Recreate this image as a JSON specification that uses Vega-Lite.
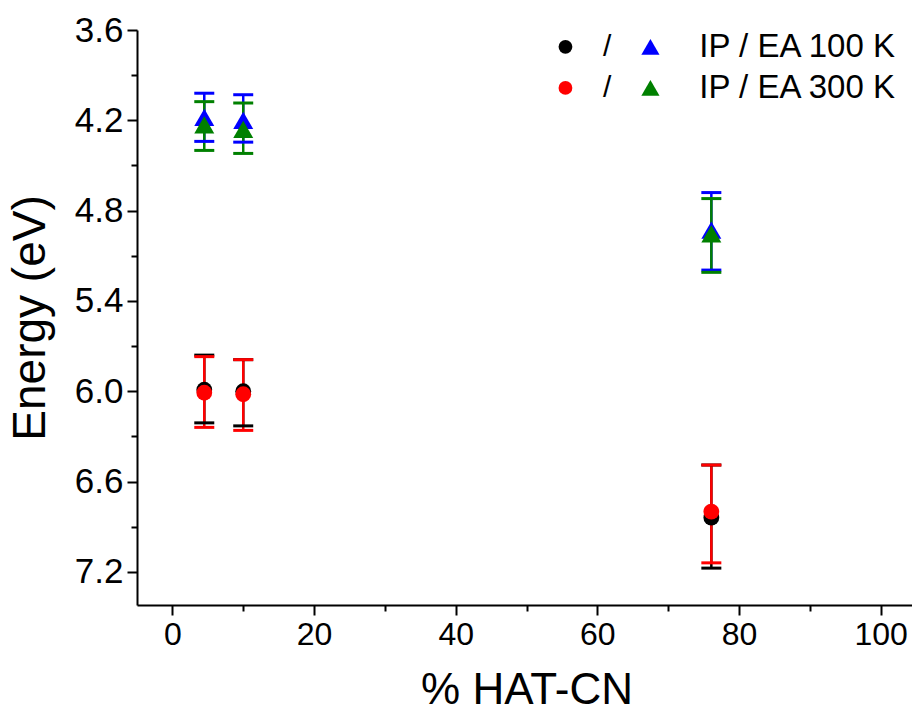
{
  "$schema": "https://vega.github.io/schema/vega-lite/v6.json",
  "autosize": "none",
  "padding": {"left": 137, "top": 30, "right": 0, "bottom": 111},
  "width": 779,
  "height": 575,
  "background": "white",
  "config": {
    "view": {"stroke": null},
    "axis": {"grid": false, "domainColor": "black", "domainWidth": 2, "tickColor": "black", "tickWidth": 2, "labelColor": "black", "titleColor": "black", "titleFontWeight": "normal", "labelFont": "Liberation Sans", "titleFont": "Liberation Sans"}
  },
  "datasets": {
    "main": [
      {"series": "IP 100 K", "kind": "IP", "x": 4.5, "y": 5.99, "lo": 5.76, "hi": 6.21},
      {"series": "IP 100 K", "kind": "IP", "x": 10.0, "y": 6.0, "lo": 5.79, "hi": 6.23},
      {"series": "IP 100 K", "kind": "IP", "x": 76.1, "y": 6.84, "lo": 6.49, "hi": 7.175},
      {"series": "EA 100 K", "kind": "EA", "x": 4.5, "y": 4.18, "lo": 4.02, "hi": 4.34},
      {"series": "EA 100 K", "kind": "EA", "x": 10.0, "y": 4.2, "lo": 4.03, "hi": 4.345},
      {"series": "EA 100 K", "kind": "EA", "x": 76.1, "y": 4.93, "lo": 4.68, "hi": 5.195},
      {"series": "IP 300 K", "kind": "IP", "x": 4.5, "y": 6.01, "lo": 5.77, "hi": 6.24},
      {"series": "IP 300 K", "kind": "IP", "x": 10.0, "y": 6.02, "lo": 5.79, "hi": 6.26},
      {"series": "IP 300 K", "kind": "IP", "x": 76.1, "y": 6.8, "lo": 6.49, "hi": 7.14},
      {"series": "EA 300 K", "kind": "EA", "x": 4.5, "y": 4.23, "lo": 4.076, "hi": 4.4},
      {"series": "EA 300 K", "kind": "EA", "x": 10.0, "y": 4.26, "lo": 4.085, "hi": 4.42},
      {"series": "EA 300 K", "kind": "EA", "x": 76.1, "y": 4.955, "lo": 4.72, "hi": 5.21}
    ],
    "legsym": [
      {"series": "IP 100 K", "kind": "IP", "x": 55.5, "y": 3.712},
      {"series": "EA 100 K", "kind": "EA", "x": 67.5, "y": 3.712},
      {"series": "IP 300 K", "kind": "IP", "x": 55.5, "y": 3.985},
      {"series": "EA 300 K", "kind": "EA", "x": 67.5, "y": 3.985}
    ],
    "legslash": [
      {"x": 61.4, "y": 3.712, "t": "/"},
      {"x": 61.4, "y": 3.985, "t": "/"}
    ],
    "leglabel": [
      {"x": 74.4, "y": 3.712, "t": "IP / EA 100 K"},
      {"x": 74.4, "y": 3.985, "t": "IP / EA 300 K"}
    ]
  },
  "layer": [
    {
      "data": {"name": "main"},
      "mark": {"type": "rule", "strokeWidth": 2.5},
      "encoding": {
        "x": {"field": "x", "type": "quantitative", "title": "% HAT-CN",
          "scale": {"domain": [-5, 105], "nice": false, "zero": false},
          "axis": {"values": [0, 10, 20, 30, 40, 50, 60, 70, 80, 90, 100], "labelExpr": "datum.value % 20 == 0 ? datum.label : ''",
            "tickSize": {"condition": {"test": "datum.value % 20 == 0", "value": 10}, "value": 6},
            "labelFontSize": 32, "labelPadding": 4, "titleFontSize": 44, "titlePadding": 18}},
        "y": {"field": "lo", "type": "quantitative", "title": "Energy (eV)",
          "scale": {"domain": [3.6, 7.42], "reverse": true, "nice": false, "zero": false},
          "axis": {"values": [3.6, 3.9, 4.2, 4.5, 4.8, 5.1, 5.4, 5.7, 6.0, 6.3, 6.6, 6.9, 7.2], "labelExpr": "round(datum.value*10) % 6 == 0 ? format(datum.value, '.1f') : ''",
            "tickSize": {"condition": {"test": "round(datum.value*10) % 6 == 0", "value": 10}, "value": 6},
            "labelFontSize": 35, "labelPadding": 4, "titleFontSize": 46, "titlePadding": 20}},
        "y2": {"field": "hi"},
        "color": {"field": "series", "type": "nominal", "legend": null,
          "scale": {"domain": ["IP 100 K", "EA 100 K", "IP 300 K", "EA 300 K"], "range": ["#000000", "#0000ff", "#ff0000", "#008000"]}}
      }
    },
    {
      "data": {"name": "main"},
      "mark": {"type": "tick", "orient": "horizontal", "size": 20, "thickness": 3, "opacity": 1},
      "encoding": {
        "x": {"field": "x", "type": "quantitative", "title": "% HAT-CN"},
        "y": {"field": "lo", "type": "quantitative", "title": "Energy (eV)"},
        "color": {"field": "series", "type": "nominal", "legend": null}
      }
    },
    {
      "data": {"name": "main"},
      "mark": {"type": "tick", "orient": "horizontal", "size": 20, "thickness": 3, "opacity": 1},
      "encoding": {
        "x": {"field": "x", "type": "quantitative", "title": "% HAT-CN"},
        "y": {"field": "hi", "type": "quantitative", "title": "Energy (eV)"},
        "color": {"field": "series", "type": "nominal", "legend": null}
      }
    },
    {
      "data": {"name": "main"},
      "transform": [{"filter": "datum.kind == 'IP'"}],
      "mark": {"type": "point", "shape": "circle", "filled": true, "size": 250, "opacity": 1},
      "encoding": {
        "x": {"field": "x", "type": "quantitative", "title": "% HAT-CN"},
        "y": {"field": "y", "type": "quantitative", "title": "Energy (eV)"},
        "color": {"field": "series", "type": "nominal", "legend": null}
      }
    },
    {
      "data": {"name": "main"},
      "transform": [{"filter": "datum.kind == 'EA'"}],
      "mark": {"type": "point", "shape": "triangle-up", "filled": true, "size": 400, "opacity": 1},
      "encoding": {
        "x": {"field": "x", "type": "quantitative", "title": "% HAT-CN"},
        "y": {"field": "y", "type": "quantitative", "title": "Energy (eV)"},
        "color": {"field": "series", "type": "nominal", "legend": null}
      }
    },
    {
      "data": {"name": "legsym"},
      "transform": [{"filter": "datum.kind == 'IP'"}],
      "mark": {"type": "point", "shape": "circle", "filled": true, "size": 190, "opacity": 1},
      "encoding": {
        "x": {"field": "x", "type": "quantitative", "title": "% HAT-CN"},
        "y": {"field": "y", "type": "quantitative", "title": "Energy (eV)"},
        "color": {"field": "series", "type": "nominal", "legend": null}
      }
    },
    {
      "data": {"name": "legsym"},
      "transform": [{"filter": "datum.kind == 'EA'"}],
      "mark": {"type": "point", "shape": "triangle-up", "filled": true, "size": 330, "opacity": 1},
      "encoding": {
        "x": {"field": "x", "type": "quantitative", "title": "% HAT-CN"},
        "y": {"field": "y", "type": "quantitative", "title": "Energy (eV)"},
        "color": {"field": "series", "type": "nominal", "legend": null}
      }
    },
    {
      "data": {"name": "legslash"},
      "mark": {"type": "text", "font": "Liberation Sans", "fontSize": 30, "align": "center", "baseline": "middle", "color": "black"},
      "encoding": {
        "x": {"field": "x", "type": "quantitative", "title": "% HAT-CN"},
        "y": {"field": "y", "type": "quantitative", "title": "Energy (eV)"},
        "text": {"field": "t"}
      }
    },
    {
      "data": {"name": "leglabel"},
      "mark": {"type": "text", "font": "Liberation Sans", "fontSize": 33, "align": "left", "baseline": "middle", "color": "black"},
      "encoding": {
        "x": {"field": "x", "type": "quantitative", "title": "% HAT-CN"},
        "y": {"field": "y", "type": "quantitative", "title": "Energy (eV)"},
        "text": {"field": "t"}
      }
    }
  ]
}
